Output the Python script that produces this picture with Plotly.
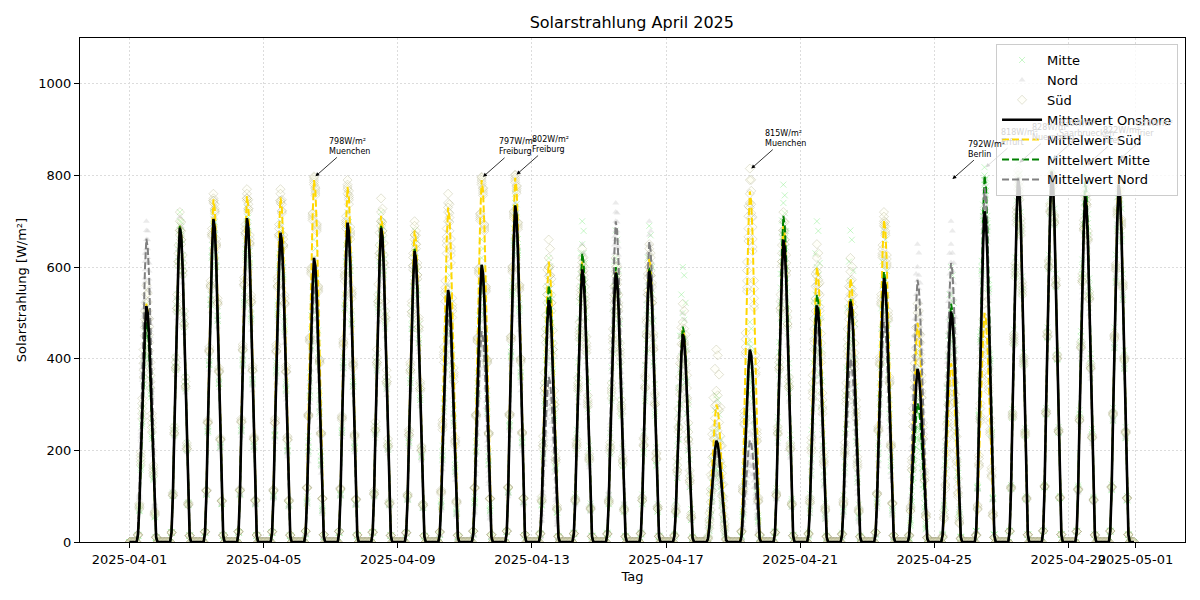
import pandas as pd
import plotly.graph_objects as go

# ---------------- data ----------------
days = pd.date_range("2025-04-01", periods=30, freq="D")
hours = list(range(24))

# relative hourly shape of a day (fraction of the daily peak)
day_profile = [0, 0, 0, 0, 0, 0, 0.03, 0.15, 0.35, 0.56, 0.75, 0.90,
               1.0, 0.97, 0.87, 0.70, 0.50, 0.30, 0.12, 0.02, 0, 0, 0, 0]

# daily peak of the mean curves [W/m²]
peak_onshore = [515, 686, 705, 707, 675, 620, 697, 686, 635, 550, 605, 734, 528, 595, 588,
                592, 454, 221, 420, 660, 516, 525, 576, 378, 503, 722, 795, 808, 754, 780]
peak_sued = [520, 690, 748, 755, 752, 790, 775, 712, 680, 730, 790, 795, 612, 612, 590,
             620, 465, 300, 765, 690, 600, 575, 703, 478, 390, 500, 790, 808, 765, 800]
peak_mitte = [480, 690, 700, 705, 675, 600, 695, 690, 640, 545, 600, 735, 560, 630, 600,
              600, 470, 220, 420, 712, 540, 530, 590, 303, 520, 800, 795, 810, 787, 780]
peak_nord = [662, 680, 700, 690, 650, 560, 680, 670, 620, 500, 460, 700, 360, 590, 700,
             655, 440, 200, 222, 650, 470, 400, 480, 572, 609, 773, 795, 805, 740, 770]

# daily peaks of individual stations per region [W/m²]
stations_sued = [
    [560, 720, 760, 770, 770, 798, 790, 750, 700, 760, 797, 802, 660, 640, 620, 650, 520, 420, 815, 720, 650, 620, 720, 520, 460, 540, 810, 820, 780, 810],
    [500, 700, 750, 760, 760, 790, 780, 720, 690, 740, 790, 795, 620, 620, 600, 640, 480, 300, 790, 700, 620, 590, 710, 500, 400, 520, 800, 815, 770, 805],
    [540, 680, 745, 750, 745, 785, 770, 700, 670, 720, 780, 790, 600, 600, 580, 610, 450, 250, 760, 680, 590, 570, 700, 470, 360, 490, 790, 805, 760, 800],
    [480, 670, 740, 745, 740, 780, 760, 690, 660, 700, 785, 785, 580, 590, 560, 600, 430, 200, 730, 670, 560, 540, 690, 450, 330, 480, 780, 800, 755, 795],
    [520, 680, 745, 750, 745, 795, 775, 700, 670, 730, 795, 800, 600, 610, 590, 600, 445, 330, 740, 680, 580, 555, 695, 450, 350, 470, 770, 800, 760, 790],
]
stations_mitte = [
    [520, 720, 720, 730, 700, 660, 720, 720, 680, 600, 660, 760, 620, 700, 680, 690, 600, 320, 480, 780, 700, 680, 680, 420, 600, 818, 828, 836, 822, 836],
    [490, 700, 705, 710, 690, 620, 700, 700, 650, 560, 620, 740, 580, 650, 620, 620, 500, 250, 440, 740, 600, 570, 620, 320, 540, 800, 800, 815, 800, 800],
    [470, 680, 695, 700, 670, 590, 690, 690, 630, 540, 590, 730, 550, 620, 590, 590, 450, 200, 400, 700, 520, 500, 580, 280, 500, 790, 785, 800, 780, 770],
    [450, 670, 690, 690, 660, 570, 680, 670, 620, 510, 570, 720, 530, 600, 560, 560, 400, 170, 380, 680, 470, 460, 560, 250, 480, 780, 775, 795, 770, 760],
    [460, 680, 690, 695, 665, 560, 680, 680, 620, 520, 560, 725, 540, 580, 550, 550, 400, 160, 360, 650, 420, 440, 520, 230, 450, 790, 780, 800, 765, 755],
]
stations_nord = [
    [700, 710, 730, 720, 690, 620, 720, 700, 660, 560, 560, 740, 460, 650, 740, 700, 500, 260, 300, 700, 560, 520, 620, 650, 700, 792, 810, 810, 770, 790],
    [680, 690, 710, 700, 660, 580, 690, 680, 630, 520, 510, 710, 400, 610, 720, 670, 460, 220, 240, 670, 500, 450, 560, 600, 650, 780, 800, 805, 750, 775],
    [660, 680, 700, 690, 650, 560, 680, 670, 620, 500, 480, 700, 360, 590, 700, 650, 440, 200, 210, 650, 460, 420, 540, 570, 610, 770, 790, 800, 740, 770],
    [640, 670, 690, 680, 640, 540, 670, 660, 600, 480, 440, 690, 320, 560, 680, 630, 410, 170, 190, 620, 420, 380, 500, 540, 570, 760, 785, 800, 725, 760],
    [630, 650, 670, 660, 620, 500, 650, 640, 590, 450, 420, 660, 300, 540, 660, 600, 400, 150, 170, 610, 400, 350, 470, 500, 540, 750, 780, 795, 710, 750],
]

# annotated daily maxima (date 13:00, value, station)
ann_dates = ["2025-04-06 13:00", "2025-04-11 13:00", "2025-04-12 13:00", "2025-04-19 13:00",
             "2025-04-25 13:00", "2025-04-26 13:00", "2025-04-27 13:00", "2025-04-28 13:00",
             "2025-04-29 13:00", "2025-04-30 13:00"]
ann_values = [798, 797, 802, 815, 792, 818, 828, 836, 822, 836]
ann_stations = ["Muenchen", "Freiburg", "Freiburg", "Muenchen", "Berlin", "Erfurt",
                "Nuernberg", "Saarbruecken", "Trier", "Trier"]
ann_hidden = [False, False, False, False, False, True, True, True, True, True]

tick_dates = ["2025-04-01", "2025-04-05", "2025-04-09", "2025-04-13", "2025-04-17",
              "2025-04-21", "2025-04-25", "2025-04-29", "2025-05-01"]

# ---------------- build hourly series ----------------
times = [d + pd.Timedelta(hours=h) for d in days for h in hours]


def hourly(peaks):
    return [round(p * f, 1) for p in peaks for f in day_profile]


def station_points(stations):
    xs, ys = [], []
    for st in stations:
        vals = hourly(st)
        for t, v in zip(times, vals):
            xs.append(t)
            ys.append(v)
    return xs, ys


FONT = "DejaVu Sans"
fig = go.Figure()

mx, my = station_points(stations_mitte)
fig.add_trace(go.Scatter(x=mx, y=my, mode="markers", name="Mitte",
                         marker=dict(symbol="x-thin", size=6,
                                     line=dict(color="rgba(144,238,144,0.5)", width=1)),
                         legendrank=1))
nx, ny = station_points(stations_nord)
fig.add_trace(go.Scatter(x=nx, y=ny, mode="markers", name="Nord",
                         marker=dict(symbol="triangle-up", size=6,
                                     color="rgba(205,205,205,0.4)", line=dict(width=0)),
                         legendrank=2))
sx, sy = station_points(stations_sued)
fig.add_trace(go.Scatter(x=sx, y=sy, mode="markers", name="Süd",
                         marker=dict(symbol="diamond", size=7,
                                     color="rgba(255,255,224,0.2)",
                                     line=dict(color="rgba(160,160,120,0.3)", width=1)),
                         legendrank=3))

fig.add_trace(go.Scatter(x=times, y=hourly(peak_sued), mode="lines", name="Mittelwert Süd",
                         line=dict(color="#FFD700", width=2, dash="7px,3px"), legendrank=5))
fig.add_trace(go.Scatter(x=times, y=hourly(peak_mitte), mode="lines", name="Mittelwert Mitte",
                         line=dict(color="#008000", width=2, dash="7px,3px"), legendrank=6))
fig.add_trace(go.Scatter(x=times, y=hourly(peak_nord), mode="lines", name="Mittelwert Nord",
                         line=dict(color="#808080", width=2, dash="7px,3px"), legendrank=7))
fig.add_trace(go.Scatter(x=times, y=hourly(peak_onshore), mode="lines", name="Mittelwert Onshore",
                         line=dict(color="black", width=2.6), legendrank=4))

for d, v, s, hid in zip(ann_dates, ann_values, ann_stations, ann_hidden):
    col = "#d4d4d4" if hid else "black"
    fig.add_annotation(x=d, y=v, text=f"{v}W/m²<br>{s}", showarrow=True,
                       ax=34, ay=-30, align="left", arrowhead=2, arrowsize=1,
                       arrowwidth=0.8, arrowcolor=col,
                       font=dict(family=FONT, size=8, color=col))

fig.update_layout(
    width=1200, height=600,
    margin=dict(l=80, r=15, t=38, b=58, autoexpand=False),
    paper_bgcolor="white", plot_bgcolor="white",
    font=dict(family=FONT, size=13, color="black"),
    title=dict(text="Solarstrahlung April 2025", x=0.5265, xanchor="center",
               y=0.962, yanchor="middle", font=dict(size=16)),
    showlegend=True,
    legend=dict(x=0.9937, xanchor="right", y=0.988, yanchor="top",
                bgcolor="rgba(255,255,255,0.8)", bordercolor="#cccccc", borderwidth=1,
                font=dict(size=13), tracegroupgap=0, itemwidth=40),
)
fig.update_xaxes(
    range=["2025-03-30 12:30", "2025-05-02 11:30"],
    tickvals=tick_dates, ticktext=tick_dates, tickangle=0, automargin=False,
    ticks="outside", ticklen=5, tickcolor="black",
    showline=True, mirror=True, linecolor="black", linewidth=1,
    showgrid=True, gridcolor="#dcdcdc", griddash="2px,2px", gridwidth=1,
    title=dict(text="Tag", font=dict(size=13), standoff=6),
    tickfont=dict(size=13), zeroline=False,
)
fig.update_yaxes(
    range=[0, 1100], tickvals=[0, 200, 400, 600, 800, 1000], automargin=False,
    ticks="outside", ticklen=5, tickcolor="black",
    showline=True, mirror=True, linecolor="black", linewidth=1,
    showgrid=True, gridcolor="#dcdcdc", griddash="2px,2px", gridwidth=1,
    title=dict(text="Solarstrahlung [W/m²]", font=dict(size=13), standoff=8),
    tickfont=dict(size=13), zeroline=False,
)

fig.write_html("out.html")
